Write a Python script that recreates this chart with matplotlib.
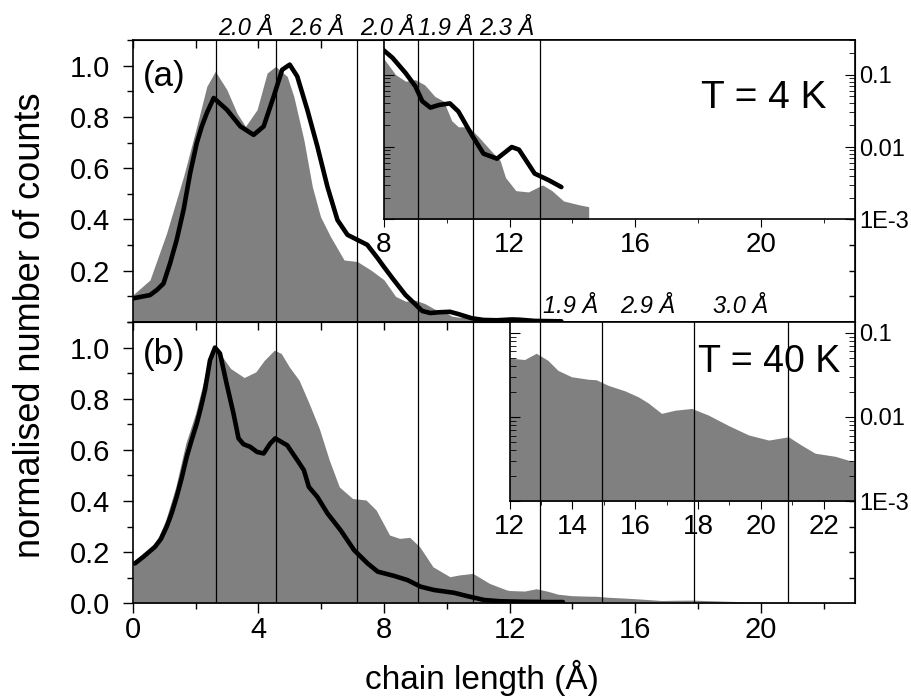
import numpy as np
import matplotlib.pyplot as plt
import matplotlib.transforms as mtransforms
from matplotlib.ticker import MultipleLocator, FixedLocator, LogLocator, NullFormatter

plt.rcParams['font.family'] = ['Liberation Sans', 'DejaVu Sans']

# ---------------- data ----------------
# (a) T = 4 K : grey filled distribution
len_4K_fill = [0.0, 0.55, 1.08, 1.62, 2.04, 2.36, 2.63, 3.0, 3.32, 3.59, 3.96, 4.28, 4.55,
               4.92, 5.13, 5.45, 5.72, 5.98, 6.3, 6.73, 7.15, 7.58, 8.0, 8.37, 8.69, 9.0,
               9.3, 9.62, 9.9, 10.16, 10.37, 10.7, 11.0, 11.45, 11.7, 11.87, 12.2, 12.6,
               13.05, 13.35, 13.72, 14.2, 14.52]
cnt_4K_fill = [0.105, 0.164, 0.347, 0.568, 0.763, 0.919, 0.978, 0.906, 0.815, 0.763, 0.828,
               0.971, 0.997, 0.958, 0.88, 0.711, 0.528, 0.411, 0.333, 0.242, 0.236, 0.203,
               0.165, 0.1, 0.081, 0.085, 0.072, 0.05, 0.043, 0.023, 0.019, 0.019, 0.014,
               0.0085, 0.0065, 0.0038, 0.0025, 0.0024, 0.003, 0.0025, 0.0018, 0.0016, 0.0015]
# (a) T = 4 K : black line
len_4K_line = [0.0, 0.55, 0.77, 0.98, 1.19, 1.4, 1.62, 1.83, 2.04, 2.2, 2.36, 2.58, 3.0,
               3.43, 3.85, 4.17, 4.49, 4.76, 5.0, 5.24, 5.56, 5.88, 6.2, 6.52, 6.84, 7.26,
               7.47, 7.8, 8.0, 8.27, 8.69, 9.0, 9.22, 9.48, 9.75, 10.1, 10.37, 10.8, 11.17,
               11.6, 12.07, 12.3, 12.8, 13.24, 13.65]
cnt_4K_line = [0.092, 0.105, 0.125, 0.15, 0.229, 0.32, 0.4375, 0.581, 0.698, 0.763, 0.815,
               0.874, 0.828, 0.763, 0.73, 0.763, 0.88, 0.984, 1.004, 0.958, 0.828, 0.685,
               0.528, 0.398, 0.34, 0.314, 0.301, 0.249, 0.215, 0.171, 0.105, 0.069, 0.043,
               0.035, 0.038, 0.040, 0.031, 0.0146, 0.0081, 0.0069, 0.010, 0.0092, 0.0043,
               0.0035, 0.0028]

# (b) T = 40 K : grey filled distribution
len_40K_fill = [0.02, 0.41, 0.73, 1.05, 1.37, 1.69, 2.0, 2.32, 2.59, 2.86, 3.12, 3.55, 3.92,
                4.19, 4.51, 4.73, 4.99, 5.3, 5.62, 5.94, 6.26, 6.58, 7.0, 7.43, 7.75, 8.18,
                8.5, 8.82, 9.14, 9.56, 10.1, 10.4, 10.83, 11.36, 11.89, 12.0, 12.48, 12.85,
                13.22, 13.54, 13.97, 14.5, 14.76, 15.14, 15.67, 16.1, 16.42, 16.84, 17.27,
                17.8, 18.33, 18.97, 19.61, 20.25, 20.88, 21.3, 21.73, 22.37, 23.0]
cnt_40K_fill = [0.162, 0.195, 0.234, 0.325, 0.455, 0.625, 0.742, 0.898, 0.996, 0.963, 0.918,
                0.883, 0.905, 0.95, 0.99, 0.977, 0.924, 0.872, 0.781, 0.684, 0.56, 0.455,
                0.41, 0.404, 0.365, 0.267, 0.254, 0.258, 0.221, 0.143, 0.104, 0.111, 0.117,
                0.078, 0.053, 0.05, 0.048, 0.057, 0.047, 0.0357, 0.030, 0.028, 0.0276,
                0.0237, 0.0204, 0.0173, 0.0146, 0.011, 0.012, 0.0126, 0.0105, 0.0079,
                0.0061, 0.0053, 0.0058, 0.0046, 0.0037, 0.0034, 0.0029]
# (b) T = 40 K : black line
len_40K_line = [0.07, 0.34, 0.71, 0.9, 1.08, 1.24, 1.4, 1.56, 1.72, 1.88, 2.04, 2.17, 2.3,
                2.46, 2.62, 2.78, 2.99, 3.21, 3.37, 3.53, 3.74, 3.96, 4.17, 4.38, 4.54,
                4.92, 5.24, 5.45, 5.61, 5.88, 6.2, 6.62, 7.05, 7.48, 7.8, 8.33, 8.75, 9.17,
                9.6, 10.24, 10.66, 11.19, 11.72, 12.5, 13.3, 13.7]
cnt_40K_line = [0.156, 0.182, 0.221, 0.252, 0.299, 0.352, 0.416, 0.49, 0.573, 0.64, 0.703,
                0.765, 0.833, 0.95, 1.0, 0.977, 0.859, 0.742, 0.645, 0.622, 0.612, 0.592,
                0.586, 0.625, 0.645, 0.618, 0.56, 0.521, 0.455, 0.416, 0.352, 0.286, 0.208,
                0.156, 0.124, 0.107, 0.091, 0.065, 0.052, 0.041, 0.028, 0.013, 0.008,
                0.006, 0.005, 0.005]

# vertical guide lines (chain length, Angstrom) and the spacings written between them
guides_a = [2.65, 4.57, 7.13, 9.09, 10.83, 12.98]
guides_b = [14.94, 17.87, 20.87]
spacing_a = ['2.0 Å', '2.6 Å', '2.0 Å', '1.9 Å', '2.3 Å']
spacing_b = ['1.9 Å', '2.9 Å', '3.0 Å']

log_ticks = [1e-3, 1e-2, 1e-1]
log_tick_labels = ['1E-3', '0.01', '0.1']

GREY = '#808080'

# ---------------- figure ----------------
fig = plt.figure(figsize=(9.12, 6.97), dpi=100)
ax_a = fig.add_axes([0.1455, 0.538, 0.792, 0.4046])
ax_b = fig.add_axes([0.1455, 0.1344, 0.792, 0.4036], sharex=ax_a)


def style_main(ax, yticks):
    ax.set_xlim(0, 23)
    ax.set_ylim(0, 1.1)
    ax.xaxis.set_major_locator(MultipleLocator(4))
    ax.xaxis.set_minor_locator(MultipleLocator(2))
    ax.yaxis.set_major_locator(FixedLocator(yticks))
    ax.yaxis.set_minor_locator(MultipleLocator(0.1))
    ax.tick_params(which='both', direction='out', width=1, labelsize=21, pad=2)
    ax.tick_params(which='major', length=7)
    ax.tick_params(which='minor', length=4)
    ax.tick_params(axis='y', pad=9)
    for s in ax.spines.values():
        s.set_linewidth(1.2)
    top = ax.secondary_xaxis('top')
    top.set_xticks(np.arange(0, 24, 2))
    top.tick_params(direction='in', length=6, width=1, labeltop=False)
    right = ax.secondary_yaxis('right')
    right.set_yticks(np.arange(0.1, 1.1, 0.1))
    right.tick_params(direction='in', length=4, width=1, labelright=False)


def style_inset(ax, xlo, ytop, major, minor):
    ax.set_yscale('log')
    ax.set_xlim(xlo, 23)
    ax.set_ylim(1e-3, ytop)
    ax.xaxis.set_major_locator(MultipleLocator(major))
    ax.xaxis.set_minor_locator(MultipleLocator(minor))
    ax.set_yticks(log_ticks)
    ax.set_yticklabels(log_tick_labels)
    ax.yaxis.set_minor_locator(LogLocator(subs=np.arange(2, 10)))
    ax.yaxis.set_minor_formatter(NullFormatter())
    ax.tick_params(axis='x', which='both', direction='out', top=False, labelsize=20, pad=3)
    ax.tick_params(axis='x', which='major', length=6)
    ax.tick_params(axis='x', which='minor', length=3)
    ax.tick_params(axis='y', which='both', direction='in', left=True, right=True,
                   labelleft=False, labelright=True, labelsize=17, pad=3)
    ax.tick_params(axis='y', which='major', length=7)
    ax.tick_params(axis='y', which='minor', length=4)
    for s in ax.spines.values():
        s.set_linewidth(1.2)


def spacing_labels(ax, lines, labels, dy):
    trans = mtransforms.blended_transform_factory(ax.transData, ax.transAxes)
    for i, lbl in enumerate(labels):
        mid = 0.5 * (lines[i] + lines[i + 1])
        ax.text(mid, 1 + dy, lbl, transform=trans, ha='center', va='baseline',
                fontsize=17, style='italic', clip_on=False)


line_kw = dict(color='black', lw=3.3, zorder=3, solid_capstyle='round',
               solid_joinstyle='round')

# panel (a)
ax_a.fill_between(len_4K_fill, cnt_4K_fill, 0, color=GREY, lw=0, zorder=1)
for g in guides_a:
    ax_a.axvline(g, color='black', lw=0.9, zorder=2)
ax_a.plot(len_4K_line, cnt_4K_line, **line_kw)
style_main(ax_a, [0.2, 0.4, 0.6, 0.8, 1.0])
ax_a.tick_params(axis='x', labelbottom=False)
spacing_labels(ax_a, guides_a, spacing_a, 0.018)
ax_a.text(0.0147, 0.87, '(a)', transform=ax_a.transAxes, fontsize=25, va='center')

ins_a = ax_a.inset_axes([8, 0.4, 15, 0.7], transform=ax_a.transData)
ins_a.fill_between(len_4K_fill, cnt_4K_fill, 1e-6, color=GREY, lw=0, zorder=1)
for g in guides_a:
    ins_a.axvline(g, color='black', lw=0.9, zorder=2)
ins_a.plot(len_4K_line, cnt_4K_line, **line_kw)
style_inset(ins_a, 8, 0.3, 4, 2)
ins_a.text(0.94, 0.622, 'T = 4 K', transform=ins_a.transAxes, fontsize=28,
           ha='right', va='baseline')

# panel (b)
ax_b.fill_between(len_40K_fill, cnt_40K_fill, 0, color=GREY, lw=0, zorder=1)
for g in guides_a + guides_b:
    ax_b.axvline(g, color='black', lw=0.9, zorder=2)
ax_b.plot(len_40K_line, cnt_40K_line, **line_kw)
style_main(ax_b, [0.0, 0.2, 0.4, 0.6, 0.8, 1.0])
all_guides = guides_a + guides_b
spacing_labels(ax_b, all_guides[len(guides_a) - 1:], spacing_b, 0.033)
ax_b.text(0.0147, 0.883, '(b)', transform=ax_b.transAxes, fontsize=25, va='center')

ins_b = ax_b.inset_axes([12, 0.4, 11, 0.7], transform=ax_b.transData)
ins_b.fill_between(len_40K_fill, cnt_40K_fill, 1e-6, color=GREY, lw=0, zorder=1)
for g in all_guides:
    ins_b.axvline(g, color='black', lw=0.9, zorder=2)
style_inset(ins_b, 12, 0.134, 2, 1)
ins_b.text(0.957, 0.718, 'T = 40 K', transform=ins_b.transAxes, fontsize=27,
           ha='right', va='baseline', zorder=4)

fig.text(31 / 912, 1 - 325 / 697, 'normalised number of counts', rotation=90,
         fontsize=26, ha='center', va='center')
fig.text(482 / 912, 8 / 697, 'chain length (Å)', fontsize=24,
         ha='center', va='baseline')

fig.savefig('out.png', dpi=100)
